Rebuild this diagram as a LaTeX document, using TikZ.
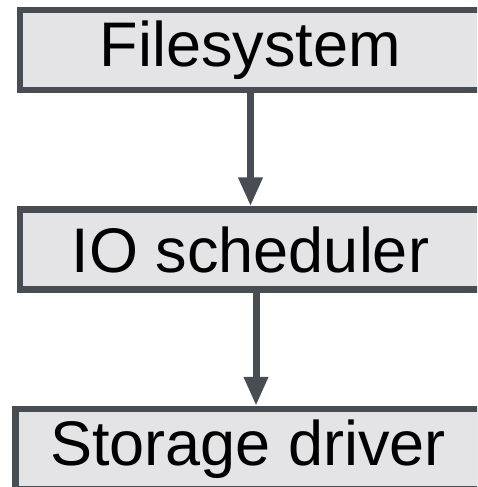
\documentclass[tikz,border=0pt]{standalone}
\usepackage{fontspec}
\setmainfont{Liberation Sans}
\usetikzlibrary{arrows.meta}
\usetikzlibrary{positioning}
\definecolor{layerline}{RGB}{71,77,83}
\definecolor{layerfill}{RGB}{228,228,230}
\tikzset {
  % one layer of the storage stack
  layer/.style = {
    draw = layerline,
    fill = layerfill,
    line width = 6.5pt,
    rectangle,
    minimum width = 461pt,
    minimum height = 80pt,
    inner sep = 0,
    font = \fontsize{63}{70}\selectfont
  },
  % arrow between layers
  arr/.style = {
    draw = layerline,
    line width = 7pt,
    -{Triangle[length=29pt,width=23pt]}
  },
  node distance = 113pt
}
\begin{document}
\begin{tikzpicture}[x=1pt,y=-1pt]
    \useasboundingbox (0,0) rectangle (477,487);
    \clip (0,0) rectangle (477,487);
    \node[layer] (fs) at (250.5,50) {Filesystem};
    \node[layer] (io) [below=of fs] {IO scheduler};
    \node[layer, minimum width = 465pt] (drv) [below=of io, xshift=-2.5pt] {Storage driver};

    \draw[arr] (fs) -- (io);
    \draw[arr] ([xshift=5.5pt]io.south) -- ([xshift=8pt]drv.north);
\end{tikzpicture}
\end{document}
